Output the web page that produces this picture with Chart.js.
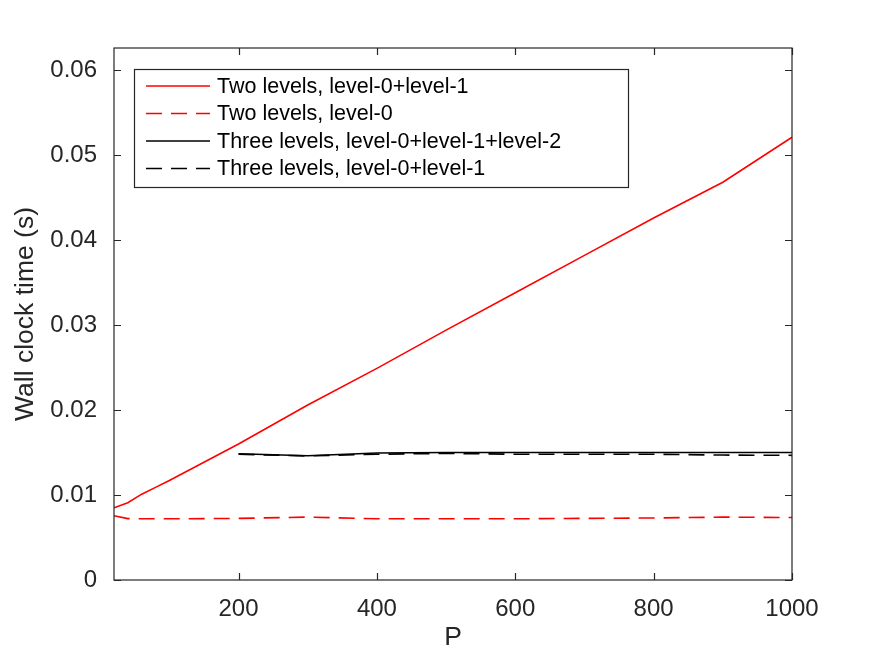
<!DOCTYPE html>
<html>
<head>
<meta charset="utf-8">
<script src="https://cdn.jsdelivr.net/npm/chart.js@4.4.1/dist/chart.umd.min.js"></script>
<style>
  html, body { margin: 0; padding: 0; background: #ffffff; }
  #wrap { width: 875px; height: 657px; position: relative; }
</style>
</head>
<body>
<div id="wrap"><canvas id="c" width="875" height="657"></canvas></div>
<script>
// ---- data ----
const pTwo = [20, 40, 60, 80, 100, 200, 300, 400, 500, 600, 700, 800, 900, 1000];
const twoLevelBoth = [0.0085, 0.0091, 0.0101, 0.0109, 0.0117, 0.0160, 0.0206, 0.0249, 0.0294, 0.0338, 0.0382, 0.0426, 0.0468, 0.0521];
const twoLevel0 = [0.00757, 0.00722, 0.0072, 0.0072, 0.0072, 0.00725, 0.0074, 0.0072, 0.0072, 0.0072, 0.00725, 0.0073, 0.0074, 0.00735];
const pThree = [200, 300, 400, 500, 600, 700, 800, 900, 1000];
const threeLevelAll = [0.01486, 0.01462, 0.01494, 0.0150, 0.0150, 0.0150, 0.0150, 0.0150, 0.0150];
const threeLevel01 = [0.0148, 0.0146, 0.0148, 0.0149, 0.0148, 0.0148, 0.0148, 0.0147, 0.01467];
const seriesLabels = [
  'Two levels, level-0+level-1',
  'Two levels, level-0',
  'Three levels, level-0+level-1+level-2',
  'Three levels, level-0+level-1'
];
const xTicks = [200, 400, 600, 800, 1000];
const yTicks = [0, 0.01, 0.02, 0.03, 0.04, 0.05, 0.06];

const toPts = (xs, ys) => xs.map((x, i) => ({ x: x, y: ys[i] }));
const AX = '#262626';
const DASH = [16, 9];
const LW = 1.6;

const boxPlugin = {
  id: 'boxTicks',
  afterDatasetsDraw(chart) {
    const ctx = chart.ctx;
    const a = chart.chartArea;
    const xs = chart.scales.x, ys = chart.scales.y;
    ctx.save();
    ctx.strokeStyle = AX;
    ctx.lineWidth = 1.2;
    ctx.setLineDash([]);
    ctx.strokeRect(a.left, a.top, a.right - a.left, a.bottom - a.top);
    const tl = 7;
    ctx.beginPath();
    xTicks.forEach(v => {
      const px = Math.round(xs.getPixelForValue(v)) + 0.5;
      ctx.moveTo(px, a.bottom); ctx.lineTo(px, a.bottom - tl);
      ctx.moveTo(px, a.top); ctx.lineTo(px, a.top + tl);
    });
    yTicks.forEach(v => {
      const py = Math.round(ys.getPixelForValue(v)) + 0.5;
      ctx.moveTo(a.left, py); ctx.lineTo(a.left + tl, py);
      ctx.moveTo(a.right, py); ctx.lineTo(a.right - tl, py);
    });
    ctx.stroke();

    // legend
    const lx0 = 134.5, ly0 = 69.5, lw = 494, lh = 118;
    ctx.fillStyle = '#ffffff';
    ctx.fillRect(lx0, ly0, lw, lh);
    ctx.strokeStyle = AX;
    ctx.lineWidth = 1.2;
    ctx.strokeRect(lx0, ly0, lw, lh);
    const rows = [86, 113.5, 141, 168.5];
    ctx.font = '21.5px "Liberation Sans", Arial, sans-serif';
    ctx.textBaseline = 'middle';
    ctx.textAlign = 'left';
    chart.data.datasets.forEach((ds, i) => {
      const y = rows[i];
      ctx.beginPath();
      ctx.strokeStyle = ds.borderColor;
      ctx.lineWidth = LW;
      ctx.setLineDash(ds.borderDash || []);
      ctx.moveTo(146, y); ctx.lineTo(210, y);
      ctx.stroke();
      ctx.setLineDash([]);
      ctx.fillStyle = '#000000';
      ctx.fillText(ds.label, 217, y + 1);
    });
    ctx.restore();
  }
};

new Chart(document.getElementById('c'), {
  type: 'line',
  data: {
    datasets: [
      { label: seriesLabels[0], data: toPts(pTwo, twoLevelBoth), borderColor: '#ff0000', borderWidth: LW, pointRadius: 0, fill: false, tension: 0 },
      { label: seriesLabels[1], data: toPts(pTwo, twoLevel0), borderColor: '#ff0000', borderWidth: LW, borderDash: DASH, pointRadius: 0, fill: false, tension: 0 },
      { label: seriesLabels[2], data: toPts(pThree, threeLevelAll), borderColor: '#000000', borderWidth: LW, pointRadius: 0, fill: false, tension: 0 },
      { label: seriesLabels[3], data: toPts(pThree, threeLevel01), borderColor: '#000000', borderWidth: LW, borderDash: DASH, pointRadius: 0, fill: false, tension: 0 }
    ]
  },
  options: {
    responsive: false,
    animation: false,
    devicePixelRatio: 1,
    layout: { padding: { left: 0, top: 48, right: 83, bottom: 0 } },
    plugins: { legend: { display: false }, tooltip: { enabled: false } },
    scales: {
      x: {
        type: 'linear', min: 20, max: 1000,
        grid: { display: false, drawTicks: false },
        border: { display: false },
        afterBuildTicks: s => { s.ticks = xTicks.map(v => ({ value: v })); },
        afterFit: s => { s.height = 77; },
        ticks: { color: AX, font: { family: '"Liberation Sans", Arial, sans-serif', size: 24 }, padding: 15, maxRotation: 0, callback: v => String(v) },
        title: { display: true, text: 'P', color: AX, font: { family: '"Liberation Sans", Arial, sans-serif', size: 26.5 }, padding: { top: 0, bottom: 3 } }
      },
      y: {
        type: 'linear', min: 0, max: 0.0626,
        grid: { display: false, drawTicks: false },
        border: { display: false },
        afterBuildTicks: s => { s.ticks = yTicks.map(v => ({ value: v })); },
        afterFit: s => { s.width = 114; },
        ticks: { color: AX, font: { family: '"Liberation Sans", Arial, sans-serif', size: 24 }, padding: 17, callback: v => (v === 0 ? '0' : String(+v.toFixed(2))) },
        title: { display: true, text: 'Wall clock time (s)', color: AX, font: { family: '"Liberation Sans", Arial, sans-serif', size: 26.5 }, padding: { top: 10, bottom: 0 } }
      }
    }
  },
  plugins: [boxPlugin]
});
</script>
</body>
</html>
